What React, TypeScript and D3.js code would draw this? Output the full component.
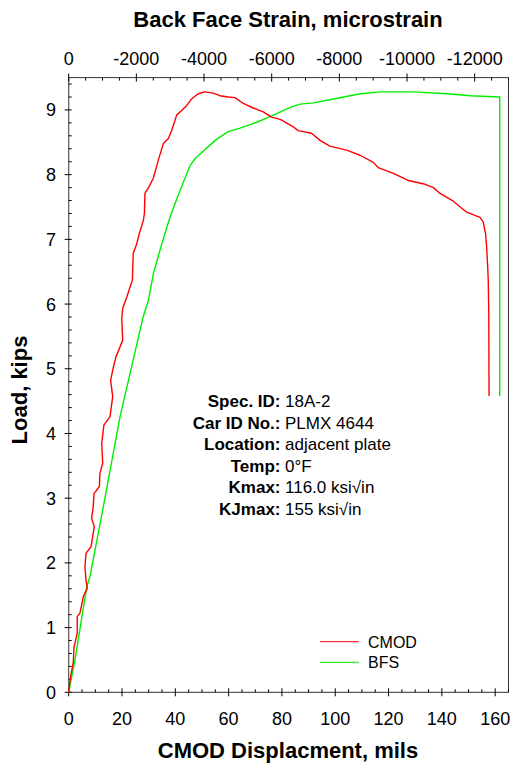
import React from 'react';
import * as d3 from 'd3';

// CMOD curve: displacement (mils) vs load (kips)
const cmodDisp = [0, 0.5, 1.2, 1.7, 2.0, 3.2, 3.2, 4.2, 5.5, 7.0, 6.5, 6.1, 6.5, 8.4, 9.6, 8.6, 9.2, 9.5, 11.5, 11.7, 12.75, 12.4, 13.2, 15.5, 16.5, 15.75, 16.5, 17.7, 20.25, 19.9, 20.25, 21.8, 23.0, 23.9, 24.2, 25.5, 26.5, 28.0, 28.4, 28.6, 30.2, 31.7, 32.6, 33.6, 35.5, 37.4, 38.6, 39.5, 40.5, 42.4, 44.3, 46.1, 48.6, 51.1, 54.2, 56.7, 59.9, 62.4, 65.5, 69.2, 73.0, 76.1, 79.6, 84.2, 86.1, 91.1, 94.3, 98.0, 104.3, 109.3, 114.3, 116.1, 121.8, 127.4, 133.0, 136.8, 139.3, 144.3, 149.3, 154.3, 155.5, 156.4, 156.8, 157.2, 157.4, 157.6, 157.7];
const cmodLoad = [0, 0.19, 0.35, 0.45, 0.7, 0.91, 1.17, 1.22, 1.48, 1.61, 1.73, 1.94, 2.15, 2.25, 2.56, 2.69, 2.87, 3.07, 3.18, 3.38, 3.54, 3.85, 4.13, 4.26, 4.57, 4.82, 4.98, 5.18, 5.44, 5.78, 5.93, 6.11, 6.26, 6.37, 6.78, 6.93, 7.09, 7.29, 7.40, 7.71, 7.82, 7.94, 8.07, 8.22, 8.48, 8.56, 8.68, 8.79, 8.92, 8.99, 9.07, 9.17, 9.25, 9.28, 9.26, 9.22, 9.20, 9.19, 9.10, 9.03, 8.97, 8.89, 8.85, 8.74, 8.68, 8.64, 8.53, 8.44, 8.38, 8.30, 8.19, 8.11, 8.02, 7.91, 7.86, 7.80, 7.71, 7.59, 7.42, 7.34, 7.27, 7.09, 6.88, 6.57, 6.37, 5.85, 4.58];

// BFS curve: back face strain (microstrain) vs load (kips)
const bfsStrain = [0, -186, -533, -630, -1024, -1518, -2190, -2356, -2504, -2752, -2998, -3293, -3589, -3737, -4329, -4723, -5069, -5563, -6054, -6548, -6846, -7238, -7830, -8620, -9211, -10197, -11185, -11874, -12741, -12741];
const bfsLoad = [0, 0.5, 1.63, 1.79, 2.87, 4.26, 5.78, 6.06, 6.47, 6.93, 7.35, 7.76, 8.14, 8.25, 8.53, 8.67, 8.72, 8.81, 8.92, 9.04, 9.09, 9.11, 9.17, 9.25, 9.28, 9.28, 9.25, 9.22, 9.20, 4.58];

const dispTicks = [0, 20, 40, 60, 80, 100, 120, 140, 160];
const strainTicks = [0, -2000, -4000, -6000, -8000, -10000, -12000];
const loadTicks = [0, 1, 2, 3, 4, 5, 6, 7, 8, 9];

const infoLabels = ['Spec. ID:', 'Car ID No.:', 'Location:', 'Temp:', 'Kmax:', 'KJmax:'];
const infoValues = ['18A-2', 'PLMX 4644', 'adjacent plate', '0°F', '116.0 ksi√in', '155 ksi√in'];
const seriesNames = ['CMOD', 'BFS'];
const seriesColors = ['#ff0000', '#00ee00'];

const FONT = '"Liberation Sans", Arial, sans-serif';

export default function App() {
  const W = 511, H = 765;
  const left = 68.7, right = 508.5, top = 77.6, bottom = 692.3;
  const x = d3.scaleLinear().domain([0, 165]).range([left, right]);
  const xs = d3.scaleLinear().domain([0, -13000]).range([left, right]);
  const y = d3.scaleLinear().domain([0, 9.5]).range([bottom, top]);

  const cmodPts: [number, number][] = cmodDisp.map((d, i) => [d, cmodLoad[i]]);
  const bfsPts: [number, number][] = bfsStrain.map((d, i) => [d, bfsLoad[i]]);
  const lineC = d3.line<[number, number]>().x(d => x(d[0])).y(d => y(d[1]));
  const lineB = d3.line<[number, number]>().x(d => xs(d[0])).y(d => y(d[1]));

  const dispMinor = d3.range(0, 165.001, 5).filter(v => !dispTicks.includes(v));
  const strainMinor = d3.range(0, -13000.001, -500).filter(v => !strainTicks.includes(v));
  const loadMinor = d3.range(0, 9.5001, 0.2).map(v => +v.toFixed(1)).filter(v => !loadTicks.includes(v));

  return (
    <svg width={W} height={H} style={{ position: 'fixed', left: 0, top: 0, background: '#fff' }} fontFamily={FONT}>
      <rect x={0} y={0} width={W} height={H} fill="#fff" />
      {/* frame */}
      <line x1={left} x2={right} y1={bottom} y2={bottom} stroke="#333" strokeWidth={1} />
      <line x1={left} x2={right} y1={top} y2={top} stroke="#333" strokeWidth={1} />
      <line x1={left} x2={left} y1={top} y2={bottom} stroke="#555" strokeWidth={1.2} />
      <line x1={right} x2={right} y1={top} y2={bottom} stroke="#333" strokeWidth={1} />

      {/* bottom axis */}
      {dispTicks.map(t => (
        <g key={'bx' + t}>
          <line x1={x(t)} x2={x(t)} y1={bottom - 4} y2={bottom + 4} stroke="#000" />
          <text x={x(t)} y={bottom + 32.5} fontSize={18} textAnchor="middle">{t}</text>
        </g>
      ))}
      {dispMinor.map(t => (
        <line key={'bm' + t} x1={x(t)} x2={x(t)} y1={bottom - 3} y2={bottom} stroke="#000" />
      ))}

      {/* top axis */}
      {strainTicks.map(t => (
        <g key={'tx' + t}>
          <line x1={xs(t)} x2={xs(t)} y1={top - 4} y2={top + 4} stroke="#000" />
          <text x={xs(t)} y={65} fontSize={18} textAnchor="middle">{t === 0 ? '0' : '-' + Math.abs(t)}</text>
        </g>
      ))}
      {strainMinor.map(t => (
        <line key={'tm' + t} x1={xs(t)} x2={xs(t)} y1={top} y2={top + 3} stroke="#000" />
      ))}

      {/* left axis */}
      {loadTicks.map(t => (
        <g key={'ly' + t}>
          <line x1={left - 4} x2={left + 3} y1={y(t)} y2={y(t)} stroke="#000" />
          <text x={56} y={y(t) + 6.5} fontSize={18} textAnchor="end">{t}</text>
        </g>
      ))}
      {loadMinor.map(t => (
        <line key={'lm' + t} x1={left} x2={left + 3} y1={y(t)} y2={y(t)} stroke="#000" />
      ))}

      {/* titles */}
      <text x={288} y={27} fontSize={22} fontWeight="bold" textAnchor="middle">Back Face Strain, microstrain</text>
      <text x={288} y={757.5} fontSize={22} fontWeight="bold" textAnchor="middle">CMOD Displacment, mils</text>
      <text transform="translate(27,390) rotate(-90)" fontSize={22} fontWeight="bold" textAnchor="middle">Load, kips</text>

      {/* curves */}
      <path d={lineB(bfsPts) || ''} fill="none" stroke={seriesColors[1]} strokeWidth={1.4} strokeLinejoin="round" />
      <path d={lineC(cmodPts) || ''} fill="none" stroke={seriesColors[0]} strokeWidth={1.4} strokeLinejoin="round" />

      {/* info block */}
      {infoLabels.map((lab, i) => (
        <g key={'info' + i}>
          <text x={280.5} y={407 + i * 21.6} fontSize={17} fontWeight="bold" textAnchor="end">{lab}</text>
          <text x={285} y={407 + i * 21.6} fontSize={17}>{infoValues[i]}</text>
        </g>
      ))}

      {/* legend */}
      {seriesNames.map((n, i) => (
        <g key={'lg' + n}>
          <line x1={320} x2={359} y1={641.7 + i * 20.6} y2={641.7 + i * 20.6} stroke={seriesColors[i]} strokeWidth={1} />
          <text x={368} y={647.7 + i * 20.6} fontSize={16}>{n}</text>
        </g>
      ))}
    </svg>
  );
}
